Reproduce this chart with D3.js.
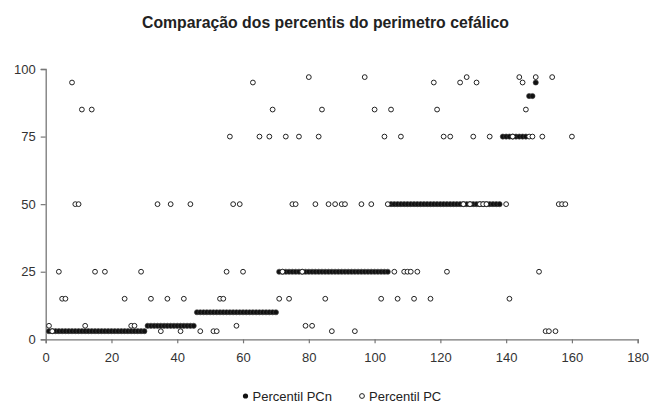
<!DOCTYPE html>
<html>
<head>
<meta charset="utf-8">
<script src="https://cdn.jsdelivr.net/npm/d3@7"></script>
<style>
  html, body { margin: 0; padding: 0; background: #fff; }
  svg { display: block; font-family: "Liberation Sans", Arial, sans-serif; }
</style>
</head>
<body>
<svg id="chart" width="651" height="403"></svg>
<script>
const titleText = "Comparação dos percentis do perimetro cefálico";
const seriesNames = ["Percentil PCn", "Percentil PC"];
const xTicks = [0, 20, 40, 60, 80, 100, 120, 140, 160, 180];
const yTicks = [0, 25, 50, 75, 100];

// Percentil PCn, one value per case 1..149
const pcnValues = [
  3,3,3,3,3,3,3,3,3,3,3,3,3,3,3,3,3,3,3,3,3,3,3,3,3,3,3,3,3,3,
  5,5,5,5,5,5,5,5,5,5,5,5,5,5,5,
  10,10,10,10,10,10,10,10,10,10,10,10,10,10,10,10,10,10,10,10,10,10,10,10,10,
  25,25,25,25,25,25,25,25,25,25,25,25,25,25,25,25,25,25,25,25,25,25,25,25,25,25,25,25,25,25,25,25,25,25,
  50,50,50,50,50,50,50,50,50,50,50,50,50,50,50,50,50,50,50,50,50,50,50,50,50,50,50,50,50,50,50,50,50,50,
  75,75,75,75,75,75,75,75,
  90,90,
  95
];

// Percentil PC (visible points): case number and value
const pcCase = [
  1,2,4,5,6,8,9,10,11,12,14,15,18,24,26,27,29,32,34,35,37,38,41,42,44,47,51,52,53,54,
  55,56,57,58,59,60,63,65,68,69,71,72,73,74,75,76,77,78,79,80,81,82,83,84,85,86,87,88,90,91,
  94,96,97,99,100,102,103,104,105,106,107,108,109,110,111,112,113,117,118,119,121,122,123,126,127,128,129,130,131,132,
  133,134,135,140,141,142,144,145,146,147,148,149,150,151,152,153,154,155,156,157,158,160
];
const pcValue = [
  5,3,25,15,15,95,50,50,85,5,85,25,25,15,5,5,25,15,50,3,15,50,3,15,50,3,3,3,15,15,
  25,75,50,5,50,25,95,75,75,85,15,25,75,15,50,50,75,25,5,97,5,50,75,85,15,50,3,50,50,50,
  3,50,97,50,85,15,75,50,85,25,15,75,25,25,25,15,25,15,95,85,75,25,75,95,50,97,50,75,95,50,
  50,50,75,50,15,75,97,95,85,75,75,97,25,75,3,3,97,3,50,50,50,75
];

const svg = d3.select("#chart");
const margin = { left: 45.7, right: 13.3, top: 69, bottom: 63.7 };
const W = 651, H = 403;

const x = d3.scaleLinear().domain([0, 180]).range([margin.left, W - margin.right]);
const y = d3.scaleLinear().domain([0, 100]).range([H - margin.bottom, margin.top]);

// Title
svg.append("text")
  .attr("x", 325.5).attr("y", 27.5)
  .attr("text-anchor", "middle")
  .attr("font-size", 15.8).attr("font-weight", "bold").attr("fill", "#222")
  .text(titleText);

// Axes
const xAxis = svg.append("g")
  .attr("transform", `translate(0,${y(0)})`)
  .call(d3.axisBottom(x).tickValues(xTicks).tickSize(4).tickPadding(9));
const yAxis = svg.append("g")
  .attr("transform", `translate(${x(0)},0)`)
  .call(d3.axisLeft(y).tickValues(yTicks).tickSize(5).tickPadding(5));
[xAxis, yAxis].forEach(g => {
  g.select(".domain").attr("stroke", "#777").attr("stroke-width", 1.3);
  g.selectAll(".tick line").attr("stroke", "#777").attr("stroke-width", 1.2);
  g.selectAll(".tick text").attr("font-size", 13).attr("fill", "#333")
    .attr("font-family", "Liberation Sans, Arial, sans-serif");
});

// PCn filled markers
svg.append("g").selectAll("circle")
  .data(pcnValues)
  .join("circle")
  .attr("cx", (d, i) => x(i + 1))
  .attr("cy", d => y(d))
  .attr("r", 2.6)
  .attr("fill", "#111")
  .attr("stroke", "#444")
  .attr("stroke-width", 0.6);

// PC open markers
svg.append("g").selectAll("circle")
  .data(pcCase.map((c, i) => ({ c, v: pcValue[i] })))
  .join("circle")
  .attr("cx", d => x(d.c))
  .attr("cy", d => y(d.v))
  .attr("r", 2.4)
  .attr("fill", "#fff")
  .attr("stroke", "#222")
  .attr("stroke-width", 1);

// Legend (equal-width entry slots)
const leg = svg.append("g").attr("font-size", 13).attr("fill", "#222");
const slotStart = 245.5, slotWidth = 116.5;
leg.append("circle").attr("cx", slotStart).attr("cy", 396).attr("r", 2.6).attr("fill", "#111");
leg.append("text").attr("x", slotStart + 7).attr("y", 400.5).text(seriesNames[0]);
leg.append("circle").attr("cx", slotStart + slotWidth).attr("cy", 396).attr("r", 2.4)
  .attr("fill", "#fff").attr("stroke", "#222").attr("stroke-width", 1);
leg.append("text").attr("x", slotStart + slotWidth + 7).attr("y", 400.5).text(seriesNames[1]);
</script>
</body>
</html>
